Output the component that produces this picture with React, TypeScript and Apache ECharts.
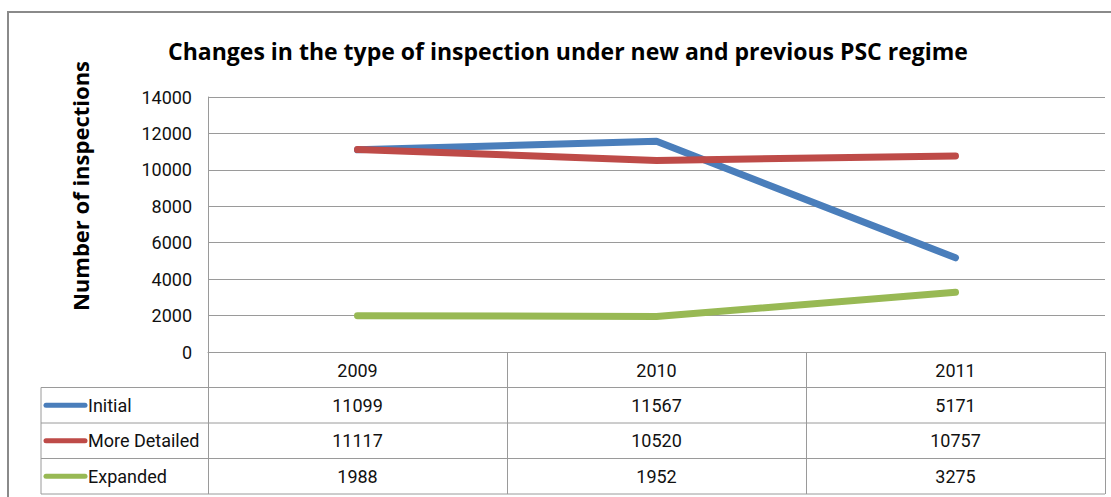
import React, { useEffect, useRef } from "react";
import * as echarts from "echarts";

const categories = ["2009", "2010", "2011"];
const seriesNames = ["Initial", "More Detailed", "Expanded"];
const initialValues = [11099, 11567, 5171];
const moreDetailedValues = [11117, 10520, 10757];
const expandedValues = [1988, 1952, 3275];
const seriesColors = ["#4A7EBB", "#BE4B48", "#98B954"];
const yMin = 0;
const yMax = 14000;
const yInterval = 2000;

const W = 1111;
const H = 497;
const GRID_LEFT = 208;
const GRID_RIGHT_X = 1105;
const GRID_TOP = 97;
const AXIS_Y = 352;
const ROW_H = 35.5;
const TABLE_LEFT = 41;
const NARROW = "Roboto, 'DejaVu Sans Condensed', sans-serif";
const BORDER = "#9a9a9a";
const FS = 18;

export default function App() {
  const ref = useRef<HTMLDivElement>(null);
  useEffect(() => {
    if (!ref.current) return;
    const chart = echarts.init(ref.current, null, { renderer: "svg" });
    const allValues = [initialValues, moreDetailedValues, expandedValues];
    const colW = (GRID_RIGHT_X - GRID_LEFT) / categories.length;
    const headerBottom = AXIS_Y + ROW_H;
    const tableBottom = headerBottom + ROW_H * seriesNames.length;

    const graphics: any[] = [
      {
        type: "rect",
        silent: true,
        shape: { x: 8, y: 12, width: 1300, height: 700 },
        style: { fill: "none", stroke: "#8a8a8a", lineWidth: 2 },
      },
      {
        type: "text",
        x: 80,
        y: 186,
        rotation: Math.PI / 2,
        style: {
          text: "Number of inspections",
          fontFamily: "'Open Sans', sans-serif",
          fontWeight: "bold",
          fontSize: 22,
          fill: "#000",
          align: "center",
          verticalAlign: "middle",
        },
      },
      {
        type: "line",
        shape: { x1: TABLE_LEFT, y1: headerBottom, x2: TABLE_LEFT, y2: tableBottom },
        style: { stroke: BORDER, lineWidth: 1 },
      },
    ];
    for (let r = 0; r <= seriesNames.length; r++) {
      const y = headerBottom + r * ROW_H;
      graphics.push({
        type: "line",
        shape: { x1: TABLE_LEFT, y1: y, x2: GRID_RIGHT_X, y2: y },
        style: { stroke: BORDER, lineWidth: 1 },
      });
    }
    seriesNames.forEach((name, r) => {
      const cy = headerBottom + r * ROW_H + ROW_H / 2;
      graphics.push({
        type: "line",
        shape: { x1: TABLE_LEFT + 5, y1: cy, x2: TABLE_LEFT + 44, y2: cy },
        style: { stroke: seriesColors[r], lineWidth: 5, lineCap: "round" },
      });
      graphics.push({
        type: "text",
        x: TABLE_LEFT + 47,
        y: cy,
        style: {
          text: name,
          fontFamily: NARROW,
          fontSize: FS,
          fill: "#111",
          align: "left",
          verticalAlign: "middle",
        },
      });
      allValues[r].forEach((v, c) => {
        graphics.push({
          type: "text",
          x: GRID_LEFT + colW * (c + 0.5),
          y: cy,
          style: {
            text: String(v),
            fontFamily: NARROW,
            fontSize: FS,
            fill: "#111",
            align: "center",
            verticalAlign: "middle",
          },
        });
      });
    });

    chart.setOption({
      animation: false,
      backgroundColor: "#fff",
      title: {
        text: "Changes in the type of inspection under new and previous PSC regime",
        left: 563,
        textAlign: "center",
        top: 34,
        textStyle: {
          fontFamily: "'Open Sans', sans-serif",
          fontWeight: "bold",
          fontSize: 23,
          color: "#000",
        },
      },
      grid: {
        left: GRID_LEFT,
        right: W - GRID_RIGHT_X,
        top: GRID_TOP,
        bottom: H - AXIS_Y,
        containLabel: false,
      },
      xAxis: {
        type: "category",
        data: categories,
        boundaryGap: true,
        axisLine: { show: true, lineStyle: { color: BORDER, width: 1 } },
        axisTick: {
          show: true,
          alignWithLabel: false,
          interval: 0,
          length: tableBottom - AXIS_Y,
          lineStyle: { color: BORDER, width: 1 },
        },
        axisLabel: {
          margin: 18,
          verticalAlign: "middle",
          fontFamily: NARROW,
          fontSize: FS,
          color: "#111",
        },
      },
      yAxis: {
        type: "value",
        min: yMin,
        max: yMax,
        interval: yInterval,
        axisLine: { show: true, lineStyle: { color: BORDER, width: 1 } },
        axisTick: { show: false },
        splitLine: { show: true, lineStyle: { color: BORDER, width: 1 } },
        axisLabel: {
          margin: 16,
          fontFamily: NARROW,
          fontSize: FS,
          color: "#111",
          formatter: (v: number) => String(v),
        },
      },
      series: seriesNames.map((name, i) => ({
        name,
        type: "line",
        data: allValues[i],
        symbol: "none",
        lineStyle: { color: seriesColors[i], width: 7, cap: "round", join: "round" },
        itemStyle: { color: seriesColors[i] },
      })),
      graphic: graphics,
    });
    return () => chart.dispose();
  }, []);
  return (
    <div
      ref={ref}
      style={{ position: "absolute", left: 0, top: 0, width: W, height: H }}
    />
  );
}
